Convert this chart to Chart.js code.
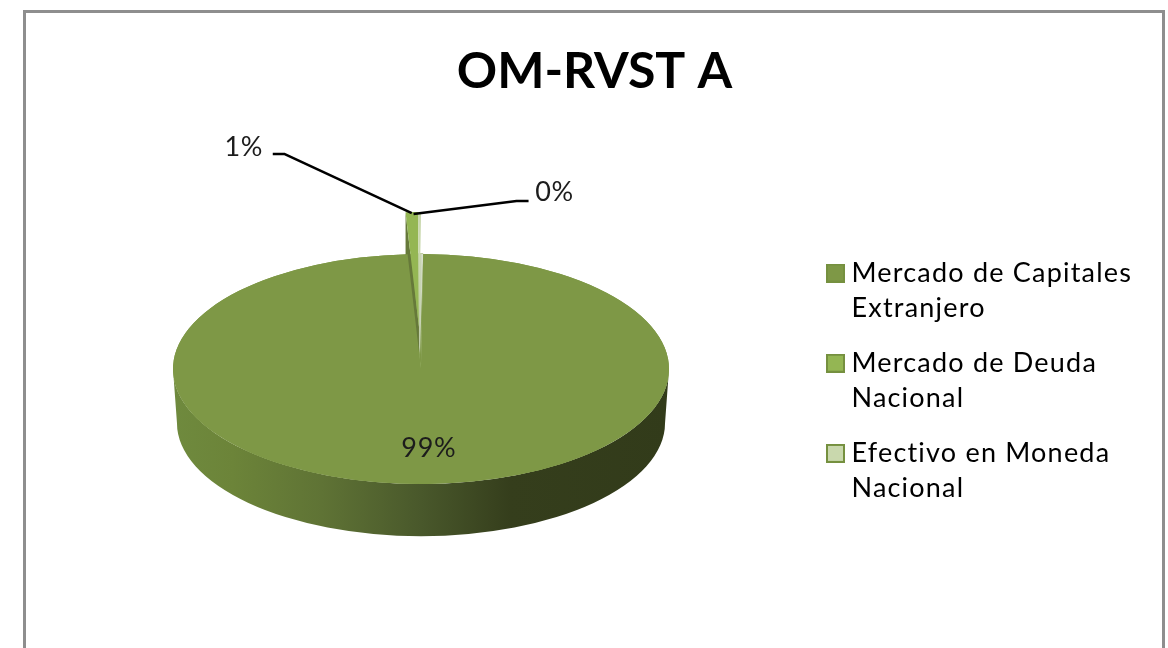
<!DOCTYPE html>
<html><head><meta charset="utf-8">
<style>html,body{margin:0;padding:0;background:#fff;overflow:hidden}canvas{display:block;filter:blur(0.5px)}</style>
<script src="https://cdn.jsdelivr.net/npm/chart.js@4/dist/chart.umd.min.js"></script>
</head><body><div style="width:1168px;height:648px"><canvas id="c" width="1168" height="648"></canvas></div>
<script>
const chartTitle = 'OM-RVST A';
const categories = [['Mercado de Capitales','Extranjero'],['Mercado de Deuda','Nacional'],['Efectivo en Moneda','Nacional']];
const shareValues = [99.0, 0.8, 0.2];
const sliceColors = ['#7e9846','#94b653','#c9d8ad'];

const FONT = 'Lato, Carlito, Calibri, sans-serif';
const SCREEN_CX = 421, SCREEN_CY = 369, SQUASH = 115/248;
const DEPTH_PX = 54, EXPLODE_PX = 42;
const depth = DEPTH_PX / SQUASH, explode = EXPLODE_PX / SQUASH;

const total = shareValues.reduce((a,b)=>a+b,0);
const pct = v => Math.round(v/total*100) + '%';

function enterPlane(ctx, arc){
  ctx.translate(SCREEN_CX, SCREEN_CY);
  ctx.scale(1, SQUASH);
  ctx.translate(-arc.x, -arc.y);
}
// both small slices move out together, along the middle of their joint wedge
function sliceShift(arcs){
  const mid = (arcs[1].startAngle + arcs[2].endAngle)/2;
  return {dx: Math.cos(mid)*explode, dy: Math.sin(mid)*explode};
}
function legendMark(fill){
  const c = document.createElement('canvas');
  c.width = 19; c.height = 19;
  const x = c.getContext('2d');
  x.fillStyle = '#75903f'; x.fillRect(0,0,19,19);
  x.fillStyle = fill; x.fillRect(2,2,15,15);
  return c;
}
const legendMarks = sliceColors.map(legendMark);

const pie3d = {
  id:'pie3d',
  beforeDraw(chart){
    const ctx = chart.ctx;
    ctx.save();
    ctx.strokeStyle = '#8e8e8e';
    ctx.lineWidth = 3;
    ctx.beginPath();
    ctx.moveTo(24.5, 660); ctx.lineTo(24.5, 11.5); ctx.lineTo(1163.5, 11.5); ctx.lineTo(1163.5, 660);
    ctx.stroke();
    ctx.restore();
  },
  beforeDatasetsDraw(chart){
    const ctx = chart.ctx, arcs = chart.getDatasetMeta(0).data, main = arcs[0];
    const {x, y, outerRadius:r} = main;
    ctx.save();
    enterPlane(ctx, main);
    // outer wall of the main slice
    const g = ctx.createLinearGradient(x - r, 0, x + r, 0);
    g.addColorStop(0, '#6f8a3e');
    g.addColorStop(0.12, '#6c8439');
    g.addColorStop(0.3, '#5f7335');
    g.addColorStop(0.5, '#49582b');
    g.addColorStop(0.68, '#353e1c');
    g.addColorStop(1, '#323b1a');
    ctx.fillStyle = g;
    const inset = 0.984;
    ctx.beginPath();
    ctx.ellipse(x, y, r, r, 0, 0, Math.PI, false);
    ctx.lineTo(x - r*inset, y + depth);
    ctx.ellipse(x, y + depth, r*inset, r*inset, 0, Math.PI, 0, true);
    ctx.closePath();
    ctx.fill();
  },
  afterDatasetsDraw(chart){
    const ctx = chart.ctx, meta = chart.getDatasetMeta(0), arcs = meta.data, main = arcs[0];
    const {x, y, outerRadius:r} = main;

    // notch left in the main face: face colour first, then its inner wall
    const a0 = arcs[1].startAngle, a1 = arcs[2].endAngle;
    ctx.fillStyle = sliceColors[0];
    ctx.beginPath();
    ctx.moveTo(x, y); ctx.arc(x, y, r + 1, a0, a1); ctx.closePath(); ctx.fill();
    const tipY = y - 14/SQUASH;
    const n = ctx.createLinearGradient(x + Math.cos(a0)*r, 0, x + Math.cos(a1)*r, 0);
    n.addColorStop(0, '#5c7034');
    n.addColorStop(0.45, '#6d8a3d');
    n.addColorStop(0.72, '#b9c8a0');
    n.addColorStop(1, '#dfe5d6');
    ctx.fillStyle = n;
    ctx.beginPath();
    ctx.moveTo(x - 1, tipY);
    ctx.lineTo(x + Math.cos(a0)*r, y + Math.sin(a0)*r);
    ctx.lineTo(x + Math.cos(a1)*r, y + Math.sin(a1)*r);
    ctx.closePath(); ctx.fill();

    // exploded slices: cut wall on the left, then their faces
    const s = sliceShift(arcs);
    const rx = x + s.dx + Math.cos(a0)*r, ry = y + s.dy + Math.sin(a0)*r;
    ctx.fillStyle = '#66793a';
    ctx.beginPath();
    ctx.moveTo(rx, ry); ctx.lineTo(rx, ry + depth);
    ctx.lineTo(x + s.dx, y + s.dy + depth); ctx.lineTo(x + s.dx, y + s.dy);
    ctx.closePath(); ctx.fill();
    [arcs[1], arcs[2]].forEach(a => {
      ctx.save(); ctx.translate(s.dx, s.dy); a.draw(ctx); ctx.restore();
    });
    main.draw(ctx);               // main slice sits in front of the exploded one
    ctx.restore();

    const toScreen = (px, py) => ({x: SCREEN_CX + (px - main.x), y: SCREEN_CY + (py - main.y)*SQUASH});
    ctx.save();
    // leader lines
    const rim = i => {
      const a = arcs[i], m = (a.startAngle + a.endAngle)/2;
      return toScreen(a.x + s.dx + Math.cos(m)*a.outerRadius, a.y + s.dy + Math.sin(m)*a.outerRadius);
    };
    ctx.strokeStyle = '#000';
    ctx.lineWidth = 2.5;
    ctx.lineJoin = 'round';
    const p1 = rim(1), p2 = rim(2);
    ctx.beginPath();
    ctx.moveTo(p1.x, p1.y + 1); ctx.lineTo(p1.x - 127, p1.y - 58); ctx.lineTo(p1.x - 139, p1.y - 58);
    ctx.stroke();
    ctx.beginPath();
    ctx.moveTo(p2.x - 6, p2.y + 2); ctx.lineTo(p2.x + 97, p2.y - 11); ctx.lineTo(p2.x + 109, p2.y - 11);
    ctx.stroke();

    // value labels
    ctx.fillStyle = '#1c1c1c';
    ctx.font = '400 27px ' + FONT;
    ctx.letterSpacing = '0.7px';
    ctx.textAlign = 'center';
    ctx.textBaseline = 'middle';
    const vals = chart.data.datasets[0].data;
    const m0 = (main.startAngle + main.endAngle)/2;
    const c0 = toScreen(main.x + Math.cos(m0)*main.outerRadius*0.68, main.y + Math.sin(m0)*main.outerRadius*0.68);
    ctx.fillText(pct(vals[0]), c0.x + 4, c0.y + 1);
    ctx.fillText(pct(vals[1]), p1.x - 168, p1.y - 65);
    ctx.fillText(pct(vals[2]), p2.x + 135, p2.y - 20);
    ctx.restore();
  }
};
const boxPlace = {
  id:'boxPlace',
  afterLayout(chart){
    const l = chart.legend, t = chart.titleBlock;
    l.left = 813; l.right = 1160; l.top = 239.5; l.bottom = 520;
    t.left = 21; t.right = 1168; t.top += 6; t.bottom += 6;
    if (!l._spaced) {
      l._spaced = true;
      const draw = l._draw.bind(l);
      l._draw = function(){
        const ctx = chart.ctx;
        ctx.save(); ctx.letterSpacing = '1.2px'; draw(); ctx.restore();
      };
    }
  }
};

new Chart(document.getElementById('c'), {
  type:'pie',
  data:{labels:categories, datasets:[{data:shareValues, backgroundColor:sliceColors, borderWidth:0, clip:false}]},
  plugins:[pie3d, boxPlace],
  options:{
    responsive:false, animation:false, radius:248, rotation:0.5,
    layout:{padding:0},
    plugins:{
      tooltip:{enabled:false},
      title:{display:true, text:chartTitle, color:'#000', font:{family:FONT, size:50, weight:'700'}, padding:{top:36,bottom:10}},
      legend:{position:'right', align:'start',
        labels:{
          color:'#1c1c1c', font:{family:FONT, size:27, lineHeight:1.3}, boxWidth:5, boxHeight:5, padding:20,
          usePointStyle:true, pointStyleWidth:5,
          generateLabels(chart){
            return chart.data.labels.map((t,i)=>({text:t, fillStyle:sliceColors[i], strokeStyle:'#75903f', lineWidth:2, pointStyle:legendMarks[i], index:i, hidden:false}));
          }
        }
      }
    }
  }
});
</script></body></html>
